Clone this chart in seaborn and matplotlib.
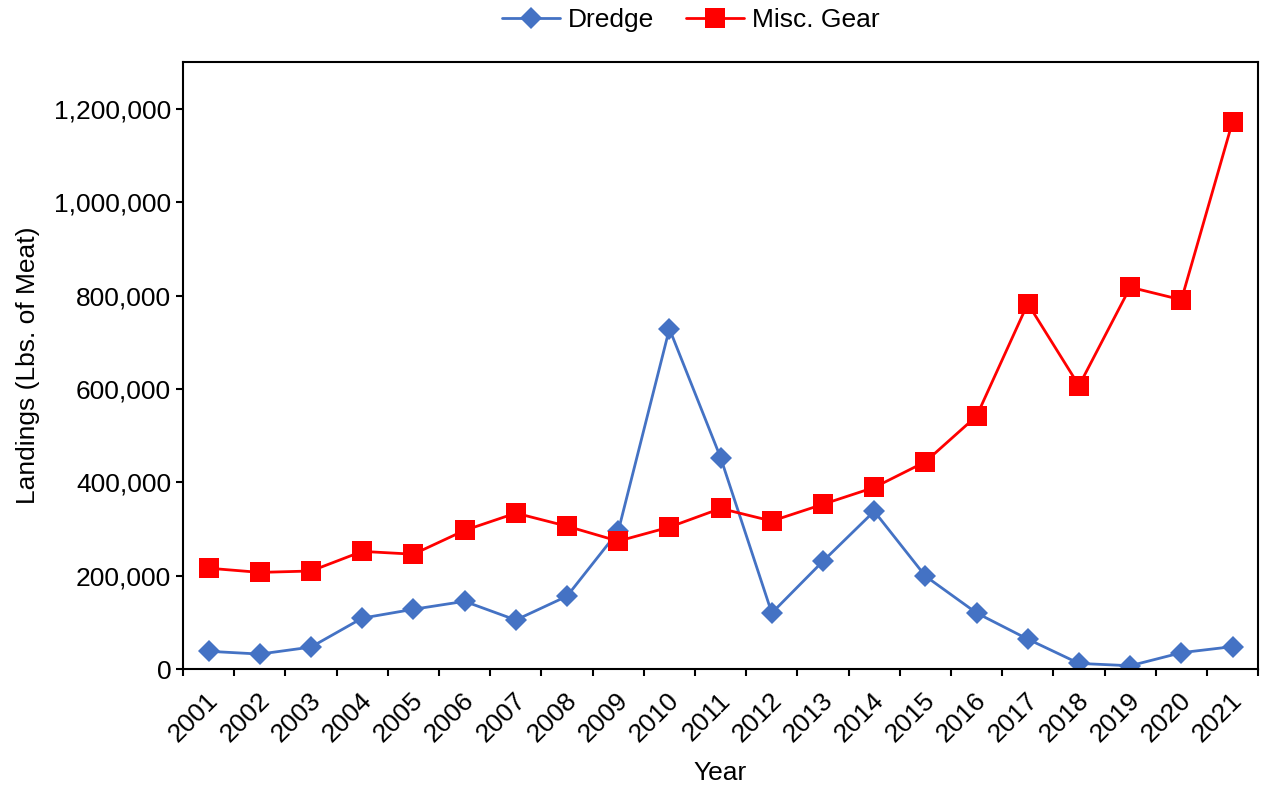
import pandas as pd
import matplotlib.pyplot as plt
import matplotlib.ticker as mticker
import matplotlib.transforms as mtransforms
import seaborn as sns

years = [str(y) for y in range(2001, 2022)]
dredge = [38000, 32000, 47000, 109000, 128000, 145000, 105000, 156000, 295000, 729000,
          453000, 120000, 231000, 338000, 199000, 120000, 64000, 12000, 7000, 35000, 48000]
misc_gear = [216000, 207000, 210000, 252000, 246000, 297000, 334000, 306000, 274000, 304000,
             344000, 317000, 353000, 389000, 444000, 542000, 783000, 607000, 818000, 791000, 1173000]

df = pd.DataFrame({'Year': years, 'Dredge': dredge, 'Misc. Gear': misc_gear})
df['pos'] = range(len(df))
long = df.melt(id_vars=['Year', 'pos'], var_name='Gear', value_name='Landings')

sns.set_style('white')
plt.rcParams['font.family'] = ['Liberation Sans', 'DejaVu Sans']
plt.rcParams['text.color'] = 'black'
plt.rcParams['axes.labelcolor'] = 'black'
plt.rcParams['xtick.color'] = 'black'
plt.rcParams['ytick.color'] = 'black'

fs = 19

fig = plt.figure(figsize=(12.62, 7.88), dpi=100)
ax = fig.add_axes([0.145, 0.151, 0.852, 0.770])

sns.lineplot(data=long, x='pos', y='Landings', hue='Gear', style='Gear',
             palette={'Dredge': '#4472C4', 'Misc. Gear': '#FF0000'},
             markers={'Dredge': 'D', 'Misc. Gear': 's'}, dashes=False,
             markersize=11, linewidth=2, markeredgewidth=0, ax=ax)

# square markers are bigger than the diamonds
for line in ax.get_lines():
    if line.get_marker() == 's':
        line.set_markersize(14)

ax.set_xlim(-0.5, len(years) - 0.5)
ax.set_ylim(0, 1300000)
ax.yaxis.set_major_locator(mticker.MultipleLocator(200000))
ax.yaxis.set_major_formatter(mticker.FuncFormatter(lambda v, p: f'{int(v):,}'))

# ticks between categories, labels at category centres (Excel style)
ax.set_xticks([i + 0.5 for i in range(-1, len(years))])
ax.set_xticklabels([])
ax.set_xticks(range(len(years)), minor=True)
ax.set_xticklabels(years, minor=True, rotation=45, ha='right', va='center',
                   rotation_mode='anchor')
ax.tick_params(axis='x', which='minor', length=0, labelsize=fs, pad=20)
ax.tick_params(axis='x', which='major', length=5, width=1.5, direction='out', bottom=True)
ax.tick_params(axis='y', length=5, width=1.5, direction='out', left=True, labelsize=fs)
shift = mtransforms.ScaledTranslation(6 / 100, 0, fig.dpi_scale_trans)
for lab in ax.get_xticklabels(minor=True):
    lab.set_transform(lab.get_transform() + shift)

for s in ax.spines.values():
    s.set_linewidth(1.5)
    s.set_color('black')

ax.set_xlabel('Year', fontsize=fs, labelpad=10)
ax.set_ylabel('Landings (Lbs. of Meat)', fontsize=fs, labelpad=10)

handles, labels = ax.get_legend_handles_labels()
ax.legend(handles, labels, loc='center', bbox_to_anchor=(0.472, 1.07), ncol=2,
          frameon=False, fontsize=fs, handlelength=2.2, columnspacing=1.2, handletextpad=0.3)

fig.savefig('out.png', dpi=100)
